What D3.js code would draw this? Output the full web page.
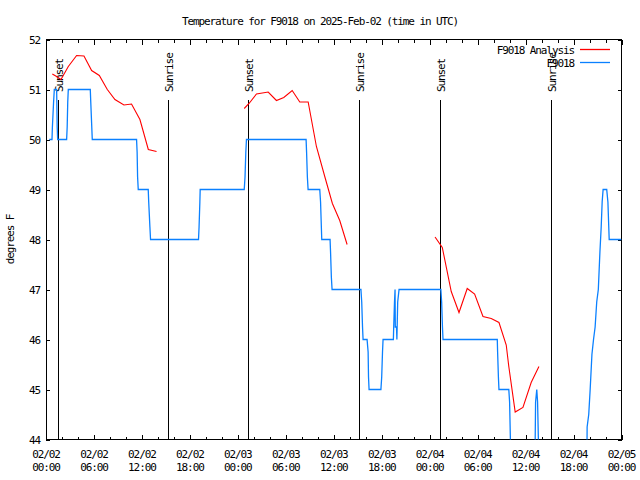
<!DOCTYPE html>
<html><head><meta charset="utf-8">
<script src="https://cdn.jsdelivr.net/npm/d3@7"></script>
<style>
body{margin:0;background:#fff;}
text{font-family:"DejaVu Sans Mono",monospace;font-size:11px;letter-spacing:-1.1px;fill:#000;}
</style></head><body>
<svg id="c" width="640" height="480"></svg>
<script>
// hours after 2025-02-02 00:00 UTC, value in degrees F
const analysis1 = [[0.79,51.31],[1.33,51.26],[1.875,51.2],[2.79,51.46],[3.83,51.68],[4.75,51.67],[5.71,51.38],[6.67,51.28],[7.67,51.0],[8.625,50.8],[9.75,50.69],[10.7,50.71],[11.75,50.4],[12.8,49.8],[13.83,49.76]];
const analysis2 = [[24.8,50.62],[25.4,50.72],[26.33,50.91],[27.8,50.95],[28.83,50.78],[29.75,50.84],[30.8,50.98],[31.75,50.75],[32.8,50.75],[33.83,49.86],[34.875,49.26],[35.83,48.72],[36.75,48.38],[37.67,47.9]];
const analysis3 = [[48.67,48.05],[49.58,47.84],[50.7,46.96],[51.67,46.54],[52.7,47.02],[53.625,46.91],[54.67,46.46],[55.7,46.42],[56.67,46.34],[57.58,45.89],[57.9,45.46],[58.7,44.55],[59.67,44.64],[60.7,45.14],[61.67,45.46]];
const observed = [[0.4,50],[0.75,50],[0.8,50.25],[0.95,50.75],[1.04,51],[1.33,51],[1.4,50.25],[1.46,50],[2.58,50],[2.65,50.25],[2.72,50.75],[2.79,51],[5.54,51],[5.6,50.75],[5.79,50],[11.33,50],[11.4,49.75],[11.46,49.25],[11.54,49],[12.79,49],[12.85,48.75],[13.0,48.25],[13.08,48],[19.08,48],[19.15,48.25],[19.25,48.75],[19.29,49],[24.8,49],[24.9,49.25],[25.0,49.75],[25.08,50],[32.54,50],[32.6,49.75],[32.7,49.25],[32.79,49],[34.25,49],[34.35,48.75],[34.5,48],[35.54,48],[35.6,47.75],[35.7,47.25],[35.79,47],[39.4,47],[39.5,46.75],[39.6,46.25],[39.67,46],[40.17,46],[40.3,45.75],[40.35,45.25],[40.42,45],[41.9,45],[42.0,45.25],[42.1,45.75],[42.17,46],[43.46,46],[43.5,46.25],[43.6,46.75],[43.67,47],[43.7,46.25],[43.85,46.25],[43.9,46],[44.0,46.75],[44.17,47],[49.4,47],[49.5,46.75],[49.6,46.25],[49.67,46],[56.46,46],[56.5,45.75],[56.6,45.25],[56.67,45],[57.9,45],[58.0,44.75],[58.17,43.5],[61.17,43.5],[61.25,44.75],[61.4,45],[61.5,44.75],[61.67,43.5],[67.67,43.5],[67.7,44.25],[67.9,44.5],[68.08,45],[68.3,45.7],[68.5,46],[68.7,46.25],[68.9,46.75],[69.1,47],[69.3,47.75],[69.46,48.25],[69.58,48.75],[69.7,49],[70.15,49],[70.3,48.75],[70.46,48],[72,48]];
const sunEvents = [["Sunset",1.46],["Sunrise",15.28],["Sunset",25.33],["Sunrise",39.17],["Sunset",49.33],["Sunrise",63.2]];
const yTicks = [44,45,46,47,48,49,50,51,52];
const titleText = "Temperature for F9018 on 2025-Feb-02 (time in UTC)";
const yLabel = "degrees F";
const seriesNames = ["F9018 Analysis","F9018"];
const seriesColors = ["#ff0000","#0a80ff"];

const base = Date.UTC(2025,1,2);
const t = h => new Date(base + h*3600000);
const L=46, R=621.5, T=39.5, B=439.5;
const svg = d3.select("#c");
const x = d3.scaleUtc().domain([t(0),t(72)]).range([L,R]);
const y = d3.scaleLinear().domain([44,52]).range([B,T]);

svg.append("defs").append("clipPath").attr("id","clip").append("rect")
  .attr("x",L).attr("y",T).attr("width",R-L).attr("height",B-T);

// title
svg.append("text").attr("x",320).attr("y",25).attr("text-anchor","middle").text(titleText);
// y label
svg.append("text").attr("transform","translate(14,239.5) rotate(-90)").attr("text-anchor","middle").text(yLabel);

// axes
const majorTicks = d3.range(0,73,6).map(t);
const minorTicks = d3.range(0,73,2).map(t);
const g = svg.append("g").attr("shape-rendering","crispEdges");
g.append("g").attr("transform",`translate(0,${B})`)
  .call(d3.axisBottom(x).tickValues(majorTicks).tickSize(-5).tickFormat(""));
g.append("g").attr("transform",`translate(0,${B})`)
  .call(d3.axisBottom(x).tickValues(minorTicks).tickSize(-3).tickFormat(""));
g.append("g").attr("transform",`translate(0,${T})`)
  .call(d3.axisTop(x).tickValues(majorTicks).tickSize(-5).tickFormat(""));
g.append("g").attr("transform",`translate(0,${T})`)
  .call(d3.axisTop(x).tickValues(minorTicks).tickSize(-3).tickFormat(""));
g.append("g").attr("transform",`translate(${L},0)`)
  .call(d3.axisLeft(y).tickValues(yTicks).tickSize(-4).tickFormat(""));
g.append("g").attr("transform",`translate(${R},0)`)
  .call(d3.axisRight(y).tickValues(yTicks).tickSize(-4).tickFormat(""));
g.selectAll(".domain").remove();
g.selectAll("line").attr("stroke","#000");
g.append("rect").attr("x",L).attr("y",T).attr("width",R-L).attr("height",B-T)
  .attr("fill","none").attr("stroke","#000");

// tick labels
const fmtD = d3.utcFormat("%m/%d"), fmtT = d3.utcFormat("%H:%M");
majorTicks.forEach(d=>{
  svg.append("text").attr("x",x(d)).attr("y",458).attr("text-anchor","middle").text(fmtD(d));
  svg.append("text").attr("x",x(d)).attr("y",471).attr("text-anchor","middle").text(fmtT(d));
});
yTicks.forEach(v=>{
  svg.append("text").attr("x",40).attr("y",y(v)+4).attr("text-anchor","end").text(v);
});

// sun lines
sunEvents.forEach(([name,h])=>{
  const xx = Math.round(x(t(h)))+0.5;
  svg.append("line").attr("x1",xx).attr("x2",xx).attr("y1",99.5).attr("y2",B)
    .attr("stroke","#000").attr("shape-rendering","crispEdges");
  svg.append("text").attr("transform",`translate(${xx+4},92) rotate(-90)`)
    .attr("text-anchor","start").text(name);
});

// series
const line = d3.line().x(d=>x(t(d[0]))).y(d=>y(d[1]));
const plot = svg.append("g").attr("clip-path","url(#clip)");
plot.append("path").datum(observed).attr("d",line).attr("fill","none")
  .attr("stroke",seriesColors[1]).attr("stroke-width",1.3);
[analysis1,analysis2,analysis3].forEach(a=>{
  plot.append("path").datum(a).attr("d",line).attr("fill","none")
    .attr("stroke",seriesColors[0]).attr("stroke-width",1.1);
});

// legend
seriesNames.forEach((n,i)=>{
  const yy = 49.5 + i*13;
  svg.append("text").attr("x",574).attr("y",yy+4).attr("text-anchor","end").text(n);
  svg.append("line").attr("x1",580).attr("x2",610).attr("y1",yy).attr("y2",yy)
    .attr("stroke",seriesColors[i]).attr("stroke-width",1.3);
});
</script></body></html>
